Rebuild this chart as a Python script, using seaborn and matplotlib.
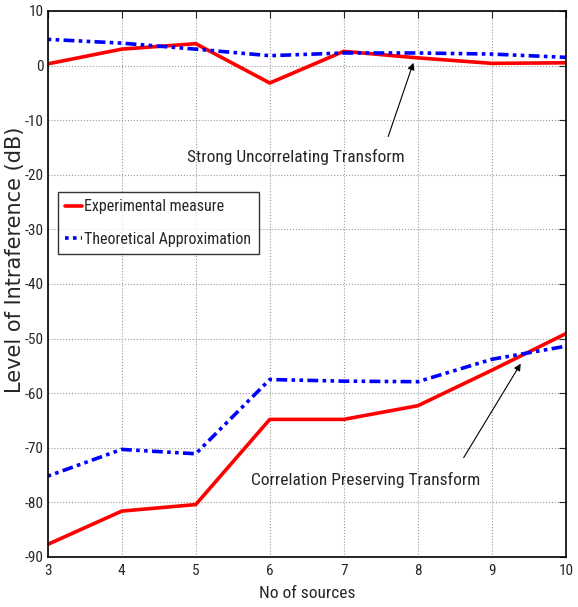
import numpy as np
import matplotlib
matplotlib.use("Agg")
import matplotlib.pyplot as plt
import seaborn as sns
import pandas as pd

sources = [3, 4, 5, 6, 7, 8, 9, 10]

# Strong Uncorrelating Transform
sut_exp = [0.3, 3.0, 4.0, -3.2, 2.6, 1.4, 0.4, 0.5]
sut_theo = [4.8, 4.1, 3.0, 1.8, 2.3, 2.3, 2.1, 1.5]

# Correlation Preserving Transform
cpt_exp = [-87.7, -81.6, -80.4, -64.8, -64.8, -62.3, -55.8, -49.1]
cpt_theo = [-75.2, -70.3, -71.1, -57.5, -57.8, -57.9, -53.8, -51.4]

sns.set_style("white")
narrow = ["Roboto Condensed", "Archivo Narrow", "Liberation Sans", "DejaVu Sans"]
plt.rcParams["font.family"] = narrow
plt.rcParams["axes.unicode_minus"] = False

fig = plt.figure(figsize=(5.78, 6.07), dpi=100)
ax = fig.add_axes([0.0825, 0.0824, 0.8965, 0.8996])

df = pd.DataFrame({"n": sources, "sut_exp": sut_exp, "sut_theo": sut_theo,
                   "cpt_exp": cpt_exp, "cpt_theo": cpt_theo})

sns.lineplot(data=df, x="n", y="sut_exp", ax=ax, color="red", lw=2.6,
             label="Experimental measure")
sns.lineplot(data=df, x="n", y="sut_theo", ax=ax, color="blue", lw=2.6,
             linestyle="-.", label="Theoretical Approximation")
sns.lineplot(data=df, x="n", y="cpt_exp", ax=ax, color="red", lw=2.6)
sns.lineplot(data=df, x="n", y="cpt_theo", ax=ax, color="blue", lw=2.6,
             linestyle="-.")
for ln in ax.lines:
    if ln.get_linestyle() == "-.":
        ln.set_dashes([1.0, 1.2, 1.0, 1.2, 3.0, 1.2])

ax.set_xlim(3, 10)
ax.set_ylim(-90, 10)
ax.set_xticks(sources)
ax.set_yticks(np.arange(-90, 11, 10))
ax.grid(True, color="#999999", linestyle=":", linewidth=0.8)
ax.tick_params(direction="in", top=True, right=True, length=5,
               labelsize=11, width=0.8)
ax.tick_params(axis="x", pad=5)
ax.tick_params(axis="y", pad=3)
for s in ax.spines.values():
    s.set_color("black")
    s.set_linewidth(1.2)

ax.set_xlabel("No of sources", fontsize=12.5, labelpad=6)
ax.set_ylabel("Level of Intraference (dB)", fontsize=15, va="center",
              family=["DejaVu Sans"])
ax.yaxis.set_label_coords(-0.064, 0.544)

# arrows
ax.annotate("", xy=(7.94, 0.5), xytext=(7.6, -13.0),
            arrowprops=dict(arrowstyle="-|>", color="black", lw=0.8,
                            shrinkA=0, shrinkB=0, mutation_scale=10))
ax.annotate("", xy=(9.39, -54.6), xytext=(8.62, -71.8),
            arrowprops=dict(arrowstyle="-|>", color="black", lw=0.8,
                            shrinkA=0, shrinkB=0, mutation_scale=10))
ax.text(6.35, -17.6, "Strong Uncorrelating Transform", fontsize=12.5,
        ha="center", va="baseline")
ax.text(7.3, -76.8, "Correlation Preserving Transform", fontsize=12.5,
        ha="center", va="baseline")

leg = ax.legend(loc="upper left", bbox_to_anchor=(0.02, 0.668), fontsize=11.5,
                frameon=True, fancybox=False, handlelength=1.05,
                handletextpad=0.15, borderpad=0.45, labelspacing=1.1,
                borderaxespad=0)
leg.get_frame().set_edgecolor("black")
leg.get_frame().set_linewidth(1.0)

fig.savefig("out.png", dpi=100)
